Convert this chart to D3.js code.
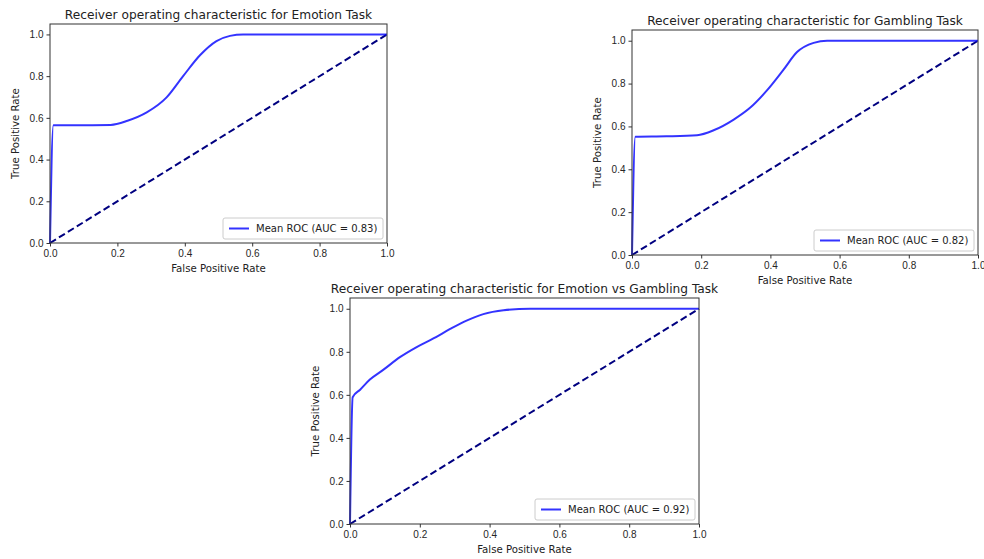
<!DOCTYPE html>
<html>
<head>
<meta charset="utf-8">
<script src="https://cdn.jsdelivr.net/npm/d3@7"></script>
<style>
  body { margin: 0; background: #fff; }
  svg { font-family: "DejaVu Sans", sans-serif; }
  .tick text { fill: #262626; }
</style>
</head>
<body>
<div id="chart"></div>
<script>
// ROC curves (false positive rate / true positive rate)
var emotionFpr = [0, 0.01, 0.10, 0.18, 0.23, 0.287, 0.346, 0.395, 0.445, 0.494, 0.534, 0.573, 1.0];
var emotionTpr = [0, 0.565, 0.565, 0.566, 0.586, 0.626, 0.698, 0.80, 0.90, 0.968, 0.993, 1.0, 1.0];

var gamblingFpr = [0, 0.0096, 0.10, 0.188, 0.236, 0.294, 0.342, 0.39, 0.438, 0.477, 0.525, 0.564, 1.0];
var gamblingTpr = [0, 0.552, 0.554, 0.559, 0.582, 0.632, 0.688, 0.768, 0.865, 0.947, 0.99, 1.0, 1.0];

var bothFpr = [0, 0.0076, 0.029, 0.057, 0.096, 0.143, 0.191, 0.239, 0.287, 0.334, 0.382, 0.44, 0.516, 1.0];
var bothTpr = [0, 0.589, 0.624, 0.671, 0.717, 0.775, 0.822, 0.862, 0.906, 0.945, 0.975, 0.993, 1.0, 1.0];

var titles = [
  "Receiver operating characteristic for Emotion Task",
  "Receiver operating characteristic for Gambling Task",
  "Receiver operating characteristic for Emotion vs Gambling Task"
];
var aucLabels = ["Mean ROC (AUC = 0.83)", "Mean ROC (AUC = 0.82)", "Mean ROC (AUC = 0.92)"];
var tickValues = [0, 0.2, 0.4, 0.6, 0.8, 1.0];

// where each axes box sits in the window
var panels = [
  {left: 50, right: 387, top: 24, bottom: 243, fpr: emotionFpr, tpr: emotionTpr},
  {left: 632, right: 978, top: 30, bottom: 255, fpr: gamblingFpr, tpr: gamblingTpr},
  {left: 350, right: 699, top: 298, bottom: 524, fpr: bothFpr, tpr: bothTpr}
];

var svg = d3.select("#chart")
  .append("svg")
  .attr("width", 984)
  .attr("height", 559);

panels.forEach(function(p, i) {
  var w = p.right - p.left;
  var h = p.bottom - p.top;

  var x = d3.scaleLinear().domain([0, 1]).range([0, w]);
  var y = d3.scaleLinear().domain([0, 1.05]).range([h, 0]);

  var g = svg.append("g").attr("transform", `translate(${p.left},${p.top})`);

  // chance line
  g.append("path")
    .datum([0, 1])
    .attr("d", d3.line().x(function(d) { return x(d); }).y(function(d) { return y(d); }))
    .attr("stroke", "navy")
    .attr("stroke-width", 2)
    .attr("stroke-dasharray", "7,3.5")
    .attr("fill", "none");

  // mean ROC
  var pts = p.fpr.map(function(f, k) { return [f, p.tpr[k]]; });
  g.append("path")
    .datum(pts)
    .attr("d", d3.line()
      .x(function(d) { return x(d[0]); })
      .y(function(d) { return y(d[1]); })
      .curve(d3.curveMonotoneX))
    .attr("stroke", "blue")
    .attr("stroke-opacity", 0.8)
    .attr("stroke-width", 2)
    .attr("fill", "none");

  // axes
  var bottomAxis = d3.axisBottom(x).tickValues(tickValues).tickFormat(d3.format(".1f")).tickSize(3.5).tickPadding(3);
  var leftAxis = d3.axisLeft(y).tickValues(tickValues).tickFormat(d3.format(".1f")).tickSize(3.5).tickPadding(3);

  g.append("g").attr("transform", `translate(0,${h})`).call(bottomAxis)
    .call(function(a) { a.select(".domain").remove(); })
    .selectAll("text").style("font-size", "10px");
  g.append("g").call(leftAxis)
    .call(function(a) { a.select(".domain").remove(); })
    .selectAll("text").style("font-size", "10px");
  g.selectAll(".tick line").attr("stroke", "#333");

  // frame
  g.append("rect")
    .attr("width", w).attr("height", h)
    .attr("fill", "none")
    .attr("stroke", "#333")
    .attr("stroke-width", 1);

  // title
  g.append("text")
    .attr("x", w / 2)
    .attr("y", -5)
    .attr("text-anchor", "middle")
    .style("font-size", "12.2px")
    .attr("fill", "#222")
    .text(titles[i]);

  // axis labels
  g.append("text")
    .attr("x", w / 2)
    .attr("y", h + 29)
    .attr("text-anchor", "middle")
    .style("font-size", "10.2px")
    .attr("fill", "#222")
    .text("False Positive Rate");

  g.append("text")
    .attr("transform", "rotate(-90)")
    .attr("x", -h / 2)
    .attr("y", -31)
    .attr("text-anchor", "middle")
    .style("font-size", "10.2px")
    .attr("fill", "#222")
    .text("True Positive Rate");

  // legend
  var lw = 160, lh = 21;
  var lg = g.append("g").attr("transform", `translate(${w - lw - 4},${h - lh - 4})`);
  lg.append("rect")
    .attr("width", lw).attr("height", lh)
    .attr("rx", 2)
    .attr("fill", "#fff")
    .attr("stroke", "#ccc");
  lg.append("line")
    .attr("x1", 6).attr("x2", 26)
    .attr("y1", lh / 2).attr("y2", lh / 2)
    .attr("stroke", "blue")
    .attr("stroke-opacity", 0.8)
    .attr("stroke-width", 2);
  lg.append("text")
    .attr("x", 33)
    .attr("y", lh / 2)
    .attr("dy", "0.35em")
    .style("font-size", "10px")
    .attr("fill", "#222")
    .text(aucLabels[i]);
});
</script>
</body>
</html>
